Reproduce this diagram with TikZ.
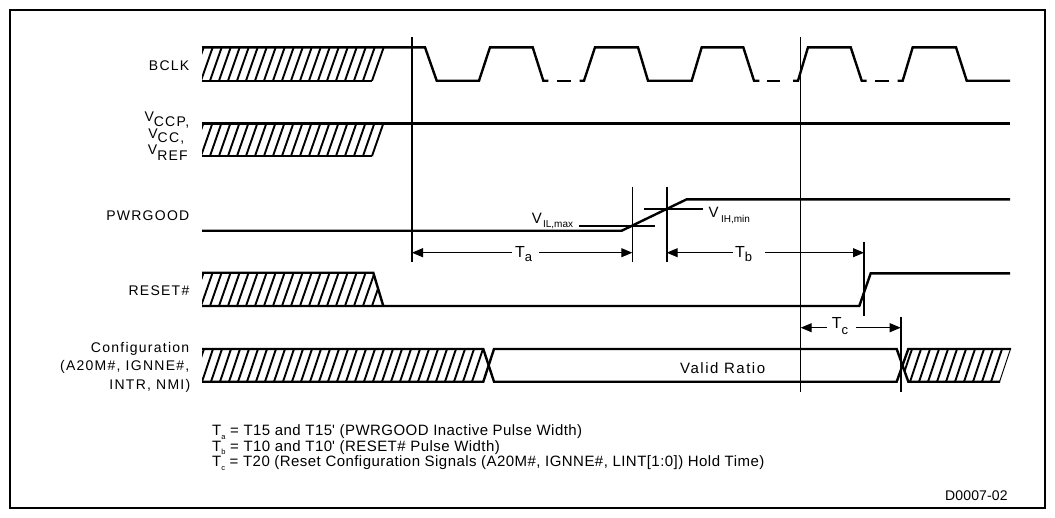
\documentclass[tikz,border=0pt]{standalone}
\usepackage{fontspec}
\setmainfont{Liberation Sans}
\newfontfamily\labfont[LetterSpace=9]{Liberation Sans}
\newfontfamily\validfont[LetterSpace=10]{Liberation Sans}
\newfontfamily\notefont[LetterSpace=3]{Liberation Sans}
\newfontfamily\codefont[LetterSpace=1]{Liberation Sans}
\usetikzlibrary{arrows.meta}
\begin{document}
\begin{tikzpicture}[x=1pt,y=-1pt,
  sig/.style={line width=2.4pt},
  hatchln/.style={line width=1.9pt},
  guide/.style={line width=1.1pt},
  thickguide/.style={line width=1.9pt},
  tick/.style={line width=1.6pt},
  dimarr/.style={line width=1pt,-{Triangle[length=11pt,width=9pt]}},
  lab/.style={inner sep=0pt, font=\labfont\fontsize{14}{16}\selectfont},
  tlab/.style={inner sep=0pt, anchor=base west, font=\fontsize{16}{18}\selectfont},
  vlab/.style={inner sep=0pt, anchor=base west, font=\fontsize{15}{18}\selectfont},
  note/.style={inner sep=0pt, anchor=base west, font=\notefont\fontsize{15}{17}\selectfont},
  code/.style={inner sep=0pt, anchor=base west, font=\codefont\fontsize{14}{16}\selectfont},
  ]
\useasboundingbox (0,0) rectangle (1055,517);
\draw[line width=2pt] (10,10) rectangle (1045,508);

% ---------- labels ----------
\node[lab, anchor=base east] (bclk) at (189.5,70) {BCLK};
\node[lab, anchor=base east] (vccp) at (189.5,121.7) {V\raisebox{-5pt}{CCP,}};
\node[lab, anchor=base east] (vcc) at (184.5,138.3) {V\raisebox{-4.5pt}{CC,}};
\node[lab, anchor=base east] (vref) at (188,154) {V\raisebox{-6.5pt}{REF}};
\node[lab, anchor=base east] (pwr) at (189.5,220.7) {PWRGOOD};
\node[lab, anchor=base east] (rst) at (189.5,295.7) {RESET\#};
\node[lab, anchor=base east] (cfg1) at (189.5,352.3) {Configuration};
\node[lab, anchor=base east] (cfg2) at (189.5,370.7) {(A20M\#, IGNNE\#,};
\node[lab, anchor=base east] (cfg3) at (190.5,389.3) {INTR, NMI)};

% ---------- BCLK ----------
\begin{scope}
\clip (202,35) rectangle (400,95);
\foreach \k in {0,...,20} \draw[hatchln] ({372-9*\k},80.7) -- ({383.7-9*\k},47.3);
\end{scope}
\draw[sig] (202,80.7) -- (372,80.7);
\draw[sig] (202,47.3) -- (425,47.3) -- (436.7,80.7) -- (479,80.7) -- (490,47.3) -- (532.7,47.3) -- (543.3,80.7) -- (548.3,80.7);
\draw[sig] (557,80.7) -- (571,80.7);
\draw[sig] (579.5,80.7) -- (584,80.7) -- (595,47.3) -- (638,47.3) -- (648,80.7) -- (691.7,80.7) -- (701.7,47.3) -- (743.3,47.3) -- (754,80.7) -- (759.3,80.7);
\draw[sig] (767.3,80.7) -- (780,80.7);
\draw[sig] (793,80.7) -- (798,80.7) -- (808,47.3) -- (850.7,47.3) -- (861.7,80.7) -- (866.7,80.7);
\draw[sig] (875,80.7) -- (888.5,80.7);
\draw[sig] (897.7,80.7) -- (902.7,80.7) -- (912.7,47.3) -- (956,47.3) -- (966.7,80.7) -- (1010,80.7);

% ---------- VCCP / VCC / VREF ----------
\begin{scope}
\clip (202,115) rectangle (400,165);
\foreach \k in {0,...,20} \draw[hatchln] ({372-9*\k},156) -- ({383.4-9*\k},123.3);
\end{scope}
\draw[sig] (202,156) -- (372,156);
\draw[sig] (202,123.3) -- (1010,123.3);

% ---------- PWRGOOD ----------
\draw[sig] (202,230.7) -- (621.7,230.7) -- (686.7,199.3) -- (1010,199.3);
\draw[tick] (579,225.7) -- (655,225.7);
\draw[tick] (644.3,209) -- (703.3,209);
\node[vlab] (vil) at (531.7,223.3) {V\hspace{1.2pt}\raisebox{-4pt}{\fontsize{10}{12}\selectfont IL,max}};
\node[vlab] (vih) at (708.3,217.3) {V\hspace{2.5pt}\raisebox{-5.4pt}{\fontsize{10}{12}\selectfont IH,min}};

% ---------- RESET# ----------
\begin{scope}
\clip (202,265) -- (371,265) -- (385.1,312) -- (202,312) -- cycle;
\foreach \k in {0,...,20} \draw[hatchln] ({372-9*\k},306) -- ({383.6-9*\k},272.7);
\end{scope}
\draw[sig] (202,272.7) -- (373.3,272.7) -- (383.3,306);
\draw[sig] (202,306) -- (859.3,306) -- (870.7,273.3) -- (1010,273.3);

% ---------- Configuration ----------
\begin{scope}
\clip (202,340) -- (480.4,340) -- (488.65,365.35) -- (480.4,390.7) -- (202,390.7) -- cycle;
\foreach \k in {0,...,32} \draw[hatchln] ({472-9*\k},381.7) -- ({483-9*\k},349);
\end{scope}
\begin{scope}
\clip (902.5,365.35) -- (911.5,340) -- (1014,340) -- (997,390.7) -- (911.5,390.7) -- cycle;
\foreach \k in {0,...,11} \draw[hatchln] ({1000-9*\k},381.7) -- ({1011-9*\k},349);
\end{scope}
\draw[sig] (202,349) -- (483.3,349) -- (494,381.7) -- (896.7,381.7) -- (908.3,349) -- (1011,349);
\draw[sig] (202,381.7) -- (483.3,381.7) -- (494,349) -- (896.7,349) -- (908.3,381.7) -- (1000,381.7);
\node[inner sep=0pt, anchor=base west, font=\validfont\fontsize{15}{18}\selectfont] (valid) at (680,373.3) {Valid Ratio};

% ---------- guide lines ----------
\coordinate (g1t) at (412,37);    \coordinate (g1b) at (412,262);
\coordinate (g2t) at (800.7,37);  \coordinate (g2b) at (800.7,392);
\coordinate (g3t) at (632.3,186.7); \coordinate (g3b) at (632.3,261.7);
\coordinate (g4t) at (666.7,186.7); \coordinate (g4b) at (666.7,261.7);
\coordinate (g5t) at (864,242);   \coordinate (g5b) at (864,316);
\coordinate (g6t) at (900.7,317); \coordinate (g6b) at (900.7,392);
\draw[guide] (g1t) -- (g1b);
\draw[guide] (g2t) -- (g2b);
\draw[guide] (g3t) -- (g3b);
\draw[thickguide] (g4t) -- (g4b);
\draw[tick] (g5t) -- (g5b);
\draw[tick] (g6t) -- (g6b);

% ---------- timing arrows ----------
\coordinate (taL) at (412,252.7);   \coordinate (taR) at (632.3,252.7);
\coordinate (taL1) at (511.7,252.7); \coordinate (taR1) at (539,252.7);
\coordinate (tbL) at (666.7,252.7); \coordinate (tbR) at (864,252.7);
\coordinate (tbL1) at (733,252.7);  \coordinate (tbR1) at (765,252.7);
\coordinate (tcL) at (800.7,327.7); \coordinate (tcR) at (900.7,327.7);
\coordinate (tcL1) at (826.7,327.7); \coordinate (tcR1) at (856,327.7);
\draw[dimarr] (taL1) -- (taL);
\draw[dimarr] (taR1) -- (taR);
\draw[dimarr] (tbL1) -- (tbL);
\draw[dimarr] (tbR1) -- (tbR);
\draw[dimarr] (tcL1) -- (tcL);
\draw[dimarr] (tcR1) -- (tcR);
\node[tlab] (ta) at (515,257.3) {T\raisebox{-4.4pt}{\fontsize{13}{15}\selectfont a}};
\node[tlab] (tb) at (735,257.3) {T\raisebox{-4.4pt}{\fontsize{13}{15}\selectfont b}};
\node[tlab] (tc) at (831.7,328.7) {T\raisebox{-6pt}{\fontsize{13}{15}\selectfont c}};

% ---------- notes ----------
\node[note] (n1) at (212,435.5) {T\raisebox{-3.5pt}{\fontsize{7.5}{9}\selectfont a} = T15 and T15\textquotesingle{} (PWRGOOD Inactive Pulse Width)};
\node[note] (n2) at (212,451) {T\raisebox{-3.5pt}{\fontsize{7.5}{9}\selectfont b} = T10 and T10\textquotesingle{} (RESET\# Pulse Width)};
\node[note] (n3) at (212,466.5) {T\raisebox{-3.5pt}{\fontsize{7.5}{9}\selectfont c} = T20 (Reset Configuration Signals (A20M\#, IGNNE\#, LINT[1:0]) Hold Time)};
\node[code] (code) at (945,500) {D0007-02};
\end{tikzpicture}
\end{document}
